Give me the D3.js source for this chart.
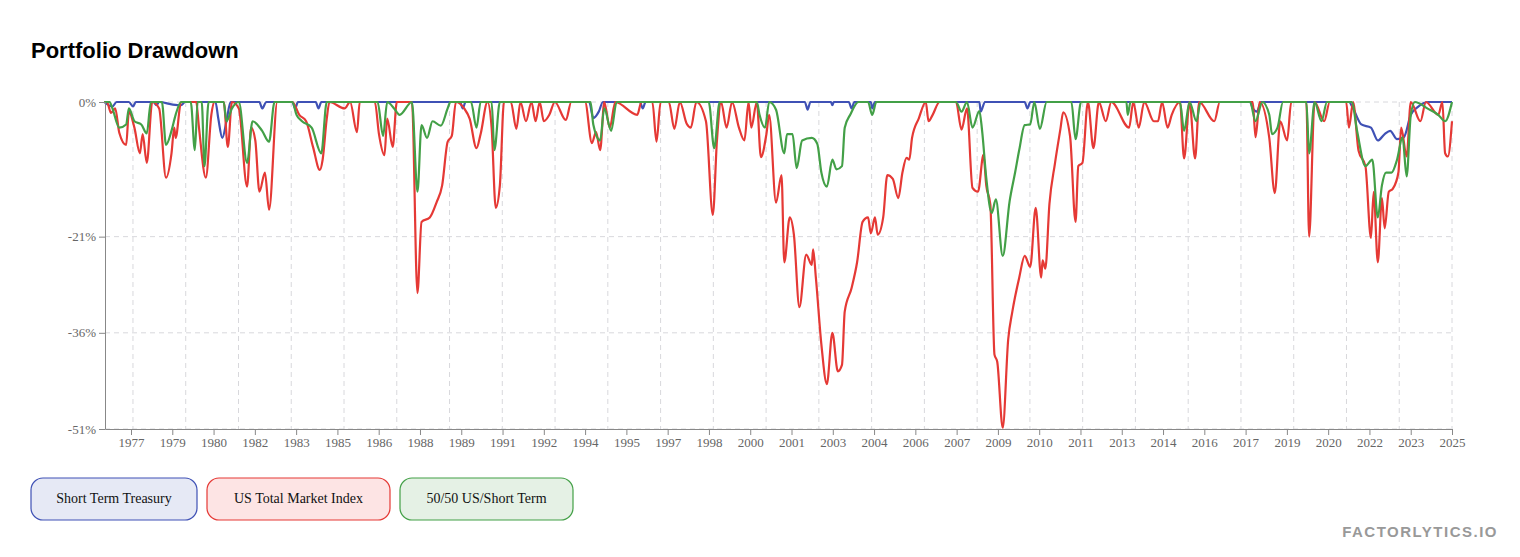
<!DOCTYPE html>
<html>
<head>
<meta charset="utf-8">
<script src="https://d3js.org/d3.v7.min.js"></script>
<style>
  body { margin: 0; background: #fff; }
  svg text { font-family: "Liberation Serif", "DejaVu Serif", serif; }
</style>
</head>
<body>
<svg id="chart" width="1520" height="557"></svg>
<script>
// series names and colours
const seriesNames = ["Short Term Treasury", "US Total Market Index", "50/50 US/Short Term"];
const seriesColors = ["#3f51b5", "#e53935", "#43a047"];
const yTicks = [0, -21, -36, -51];
const xTickLabels = ["1977","1979","1980","1982","1983","1985","1986","1988","1989","1991","1992","1994","1995","1997","1998","2000","2001","2003","2004","2006","2007","2009","2010","2011","2013","2014","2016","2017","2019","2020","2022","2023","2025"];

// drawdown (%), [decimal year, value]
const treasury = [[1976.4,0],[1976.7,-0.7],[1976.85,0],[1977.3,0],[1977.45,-0.7],[1977.55,0],[1978.2,0],[1978.3,-0.5],[1978.4,0],[1978.9,-0.4],[1979.2,-0.5],[1979.35,0],[1980.45,0],[1980.55,-2.5],[1980.7,-5.6],[1980.85,-3],[1981.0,0],[1982.05,0],[1982.15,-1],[1982.3,0],[1983.25,0],[1983.35,-1],[1983.45,0],[1984.1,0],[1984.2,-1],[1984.3,0],[1989.35,0],[1989.45,-1],[1989.55,0],[1994.05,0],[1994.2,-2.5],[1994.4,-1.5],[1994.55,0],[1995.9,0],[1996.0,-1],[1996.1,0],[2001.9,0],[2002.0,-1.2],[2002.1,0],[2002.85,0],[2002.9,-0.5],[2002.95,0],[2003.5,0],[2003.6,-1],[2003.7,0],[2004.3,0],[2004.35,-1],[2004.45,0],[2008.25,0],[2008.3,-1.5],[2008.45,0],[2009.9,0],[2010.0,-1],[2010.1,0],[2018.1,0],[2018.2,-1],[2018.35,-1.5],[2018.5,0],[2021.7,0],[2021.85,-1],[2022.15,-3.5],[2022.5,-4],[2022.75,-6],[2023.0,-5],[2023.2,-4.5],[2023.45,-5.8],[2023.7,-5.5],[2023.95,-2],[2024.2,-0.8],[2024.6,0],[2025.45,0]];

const usMarket = [[1976.4,0],[1976.5,0],[1976.65,-1.7],[1976.8,-1],[1976.95,-4.8],[1977.2,-6.7],[1977.3,-1.5],[1977.5,-4],[1977.7,-8],[1977.8,-5],[1977.95,-9.5],[1978.15,0],[1978.4,-1],[1978.65,-11.8],[1978.85,-8],[1978.95,-4],[1979.0,-5.6],[1979.2,0],[1979.75,0],[1979.85,-4],[1980.1,-11.8],[1980.3,-2],[1980.4,0],[1980.75,0],[1980.9,-7],[1981.05,0],[1981.3,-1],[1981.6,-13.2],[1981.75,-4],[1981.9,-6],[1982.05,-14],[1982.25,-11],[1982.4,-16.8],[1982.7,0],[1983.25,0],[1983.5,-2],[1983.75,-3],[1984.0,-7],[1984.25,-10.6],[1984.35,-9],[1984.5,-2.6],[1984.6,0],[1985.15,-1],[1985.35,0],[1985.6,-4.7],[1985.7,0],[1986.25,0],[1986.4,-5],[1986.6,-8.3],[1986.7,-2.6],[1986.9,-7],[1987.05,0],[1987.6,0],[1987.8,-29.8],[1987.95,-18.7],[1988.25,-18],[1988.5,-15.6],[1988.7,-13],[1988.9,-6.2],[1989.05,-5.3],[1989.2,0],[1989.5,-1],[1989.7,-2.6],[1989.95,-7.2],[1990.1,-5],[1990.35,0],[1990.5,-4],[1990.65,-16.5],[1990.8,-13],[1990.95,0],[1991.2,0],[1991.4,-4.2],[1991.55,0],[1991.75,-3],[1991.95,0],[1992.1,-3],[1992.25,0],[1992.4,-3],[1992.6,-2],[1992.8,0],[1993.2,-2.8],[1993.4,0],[1993.9,0],[1994.15,-6.4],[1994.3,-4.7],[1994.45,-7.5],[1994.6,0],[1994.8,-4],[1995.0,0],[1995.8,-2],[1995.95,0],[1996.35,0],[1996.5,-6.2],[1996.65,0],[1996.95,0],[1997.15,-4.2],[1997.35,0],[1997.6,-3.4],[1997.75,-4],[1997.95,0],[1998.3,-3],[1998.55,-17.6],[1998.7,-6],[1998.85,0],[1999.05,-4],[1999.25,0],[1999.5,-4],[1999.7,-6],[1999.85,0],[1999.95,-4],[2000.15,0],[2000.3,-8.6],[2000.5,-5],[2000.6,-2],[2000.85,-15.7],[2001.05,-11.4],[2001.15,-25],[2001.35,-18],[2001.5,-20.7],[2001.7,-32],[2001.95,-23.8],[2002.15,-25.4],[2002.2,-23],[2002.3,-27.4],[2002.5,-37.8],[2002.7,-44],[2002.9,-36],[2003.1,-42],[2003.25,-41],[2003.35,-32.7],[2003.6,-29],[2003.8,-25],[2004.0,-18.7],[2004.2,-18],[2004.3,-20.5],[2004.45,-18],[2004.55,-20.7],[2004.75,-18],[2004.9,-11.4],[2005.1,-12],[2005.3,-15],[2005.45,-11],[2005.6,-8.7],[2005.7,-9],[2005.8,-5.6],[2006.05,-2.5],[2006.3,0],[2006.4,-3],[2006.55,-2],[2006.8,0],[2007.4,0],[2007.6,-4.3],[2007.8,-1],[2008.0,-13.4],[2008.2,-14],[2008.4,-8.2],[2008.5,-13],[2008.65,-16],[2008.8,-39.4],[2008.9,-40.5],[2009.1,-50.8],[2009.3,-37],[2009.45,-32.7],[2009.7,-27.4],[2009.9,-24],[2010.1,-25.7],[2010.3,-16.5],[2010.5,-27.4],[2010.55,-24.7],[2010.65,-26],[2010.8,-15.9],[2011.0,-9.6],[2011.2,-4.2],[2011.3,-1.6],[2011.55,-5.3],[2011.75,-18.7],[2011.85,-10],[2012.0,-9.5],[2012.2,0],[2012.4,-7.2],[2012.6,0],[2012.85,-3],[2013.05,0],[2013.7,-4],[2013.85,0],[2014.05,-4],[2014.25,0],[2014.6,-3],[2014.75,-3],[2014.9,0],[2015.1,-4],[2015.25,-2],[2015.55,0],[2015.7,-8.8],[2015.9,0],[2016.1,-8.8],[2016.25,0],[2016.8,-3],[2017.0,0],[2018.2,0],[2018.3,-5.5],[2018.45,0],[2018.8,-5.6],[2019.0,-14.2],[2019.2,-3],[2019.45,-6],[2019.6,0],[2020.15,0],[2020.25,-21],[2020.45,0],[2020.8,-3],[2021.0,0],[2021.6,0],[2021.7,-4],[2021.85,0],[2022.05,-7.6],[2022.3,-10],[2022.5,-21.2],[2022.6,-14],[2022.75,-25],[2022.9,-15],[2023.0,-19.7],[2023.15,-14],[2023.3,-13.5],[2023.5,-11],[2023.6,-4],[2023.8,-8.5],[2023.95,0],[2024.3,-3],[2024.5,0],[2024.95,-2],[2025.1,0],[2025.2,-8],[2025.3,-8.5],[2025.45,-3]];

const mix5050 = [[1976.4,0],[1976.6,0],[1976.7,-1],[1976.95,-4],[1977.2,-3.5],[1977.3,-1],[1977.5,-3],[1977.75,-3.5],[1977.95,-4.9],[1978.1,0],[1978.5,0],[1978.65,-6.7],[1978.85,-4.5],[1979.0,-2],[1979.2,0],[1979.55,0],[1979.7,-7.5],[1979.8,0],[1979.95,0],[1980.05,-10],[1980.2,0],[1980.75,0],[1980.85,-3],[1981.05,-1],[1981.3,0],[1981.6,-9.5],[1981.8,-3],[1982.15,-4.5],[1982.4,-6.2],[1982.6,0],[1983.25,0],[1983.4,-2],[1983.6,-3],[1983.95,-4],[1984.3,-8],[1984.5,0],[1986.35,0],[1986.55,-5.3],[1986.7,0],[1986.95,-1],[1987.15,-2],[1987.6,0],[1987.8,-14],[1987.95,-3.6],[1988.15,-5.6],[1988.35,-3],[1988.65,-3.7],[1988.9,-1],[1989.0,0],[1989.75,0],[1989.95,-4],[1990.1,0],[1990.5,0],[1990.6,-7.5],[1990.8,0],[1994.1,0],[1994.2,-3.5],[1994.45,-6],[1994.6,-1],[1994.85,-4.5],[1995.05,0],[1998.4,0],[1998.6,-7.2],[1998.8,0],[2000.15,0],[2000.25,-2],[2000.45,-4],[2000.6,0],[2000.85,-1.2],[2001.15,-8],[2001.25,-5],[2001.45,-5],[2001.6,-10.3],[2001.8,-6],[2002.15,-5.6],[2002.35,-6.5],[2002.5,-11],[2002.7,-13.2],[2002.9,-9],[2003.05,-10.5],[2003.25,-10],[2003.35,-4],[2003.55,-2],[2003.85,0],[2004.2,0],[2004.35,-2],[2004.5,0],[2007.4,0],[2007.6,-1.5],[2007.8,0],[2008.0,-4],[2008.25,-1.4],[2008.35,-4.5],[2008.5,-11.8],[2008.7,-17.3],[2008.85,-15.2],[2009.1,-24],[2009.35,-15.5],[2009.55,-11],[2009.7,-7.5],[2009.9,-3.6],[2010.1,-3.5],[2010.25,0],[2010.45,-4.2],[2010.7,0],[2011.6,0],[2011.75,-5.8],[2011.95,0],[2013.6,0],[2013.65,-2],[2013.75,0],[2015.55,0],[2015.7,-4.5],[2015.9,0],[2016.15,-3],[2016.3,0],[2018.1,0],[2018.3,-3],[2018.55,0],[2018.8,-2],[2018.9,-5],[2019.1,-4],[2019.3,0],[2020.15,0],[2020.25,-8],[2020.45,0],[2020.7,-3],[2020.9,0],[2021.8,0],[2022.0,-4.6],[2022.3,-10],[2022.55,-9],[2022.75,-18],[2022.9,-13],[2023.05,-11],[2023.25,-11],[2023.45,-9],[2023.65,-5.5],[2023.8,-11.6],[2023.95,-2],[2024.1,0],[2024.55,-1],[2024.95,-2],[2025.2,-3],[2025.45,0]];

const allSeries = [treasury, usMarket, mix5050];

const svg = d3.select("#chart");
const margin = { top: 102, left: 105, right: 68, bottom: 128 };
const width = 1520 - margin.left - margin.right;
const height = 557 - margin.top - margin.bottom;

svg.append("text")
  .attr("x", 31).attr("y", 58)
  .style("font-family", "Liberation Sans, Arial, sans-serif")
  .style("font-size", "22px").style("font-weight", "bold")
  .text("Portfolio Drawdown");

const g = svg.append("g").attr("transform", "translate(" + margin.left + "," + margin.top + ")");

const x = d3.scaleLinear().domain([1976.43, 2025.45]).range([0, width]);
const y = d3.scaleLinear().domain([-51, 0]).range([height, 0]);
// tick labels sit at even steps along the axis
const xTick = d3.scaleLinear().domain([-0.63, xTickLabels.length - 1]).range([0, width]);
// vertical grid lines, evenly spaced
const xGrid = d3.scaleLinear().domain([-0.53, 25]).range([0, width]);

// grid
g.selectAll("line.hgrid").data(yTicks.slice(1)).join("line")
  .attr("x1", 0).attr("x2", width)
  .attr("y1", d => y(d)).attr("y2", d => y(d))
  .attr("stroke", "#d8d8dc").attr("stroke-dasharray", "5,4");
g.selectAll("line.hgrid0").data([0]).join("line")
  .attr("x1", 0).attr("x2", width).attr("y1", y(0)).attr("y2", y(0))
  .attr("stroke", "#d8d8dc").attr("stroke-dasharray", "5,4");
g.selectAll("line.vgrid").data(d3.range(0, 26)).join("line")
  .attr("x1", d => xGrid(d)).attr("x2", d => xGrid(d))
  .attr("y1", 0).attr("y2", height)
  .attr("stroke", "#d8d8dc").attr("stroke-dasharray", "5,4");

// lines
const line = d3.line()
  .x(d => x(d[0])).y(d => y(d[1]))
  .curve(d3.curveMonotoneX);
allSeries.forEach((s, i) => {
  g.append("path").datum(s)
    .attr("fill", "none")
    .attr("stroke", seriesColors[i])
    .attr("stroke-width", 2.2)
    .attr("stroke-linejoin", "round")
    .attr("d", line);
});

// y axis
const yAxis = g.append("g")
  .call(d3.axisLeft(y).tickValues(yTicks).tickFormat(d => d + "%").tickSizeOuter(0));
yAxis.select(".domain").attr("stroke", "#888");
yAxis.selectAll(".tick line").attr("stroke", "#888");
yAxis.selectAll("text").attr("fill", "#666").style("font-size", "13px");

// x axis
const xAxis = g.append("g").attr("transform", "translate(0," + height + ")")
  .call(d3.axisBottom(xTick).tickValues(d3.range(xTickLabels.length))
    .tickFormat(i => xTickLabels[i]).tickSizeOuter(0));
xAxis.select(".domain").attr("stroke", "#888");
xAxis.selectAll(".tick line").attr("stroke", "#888");
xAxis.selectAll("text").attr("fill", "#666").style("font-size", "13px");

// legend
const fills = ["#e6e9f5", "#fde4e4", "#e5f1e5"];
const boxW = [166, 183, 173];
let lx = 31;
seriesNames.forEach((name, i) => {
  const lg = svg.append("g").attr("transform", "translate(" + lx + ",478)");
  lg.append("rect").attr("width", boxW[i]).attr("height", 42).attr("rx", 12)
    .attr("fill", fills[i]).attr("stroke", seriesColors[i]).attr("stroke-width", 1.2);
  lg.append("text").attr("x", boxW[i] / 2).attr("y", 25)
    .attr("text-anchor", "middle").style("font-size", "14px").attr("fill", "#111")
    .text(name);
  lx += boxW[i] + 10;
});

svg.append("text")
  .attr("x", 1498).attr("y", 537).attr("text-anchor", "end")
  .style("font-family", "Liberation Sans, Arial, sans-serif")
  .style("font-size", "15px").style("font-weight", "bold")
  .style("letter-spacing", "1.5px").attr("fill", "#999")
  .text("FACTORLYTICS.IO");
</script>
</body>
</html>
